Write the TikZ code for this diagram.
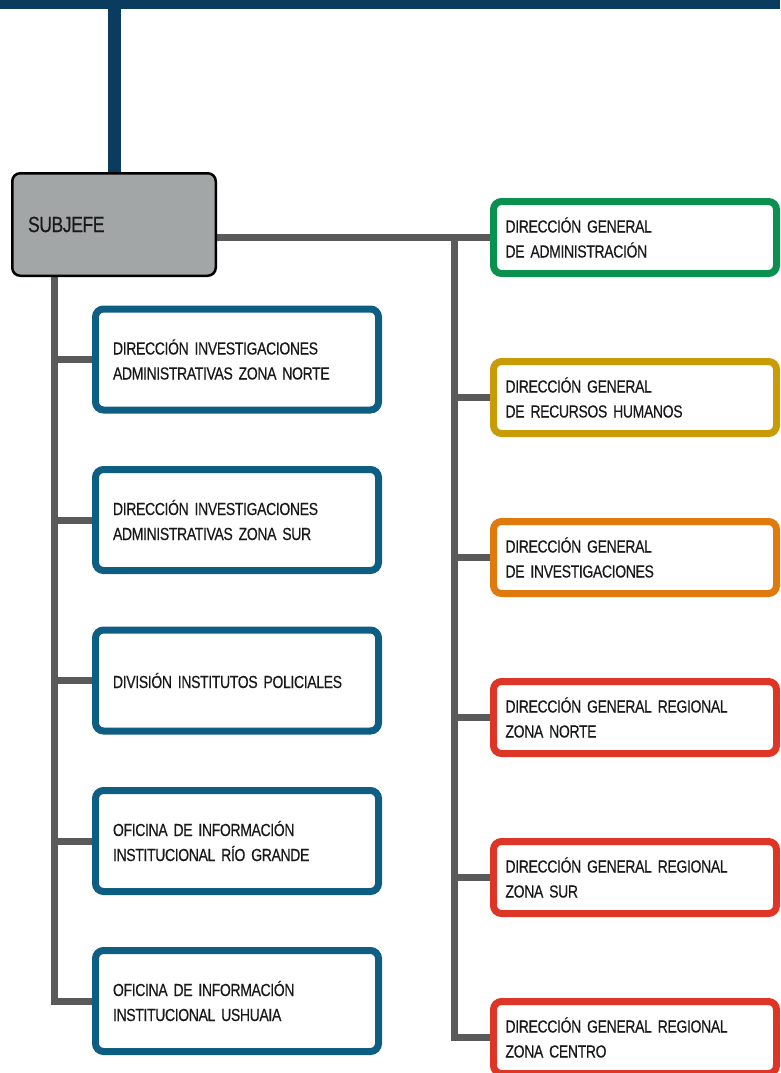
\documentclass[tikz,border=0pt]{standalone}
\usepackage{fontspec}
\setmainfont{Liberation Sans}[FakeStretch=0.8, WordSpace=0.7, FakeBold=0.4, LetterSpace=-2]
\usetikzlibrary{backgrounds}

\definecolor{navy}{RGB}{10,60,95}
\definecolor{boxblue}{RGB}{14,94,132}
\definecolor{linegray}{RGB}{90,90,90}
\definecolor{subgray}{RGB}{163,166,166}
\definecolor{dgreen}{RGB}{10,145,80}
\definecolor{dgold}{RGB}{200,155,7}
\definecolor{dorange}{RGB}{224,122,12}
\definecolor{dred}{RGB}{222,53,38}
\definecolor{txt}{RGB}{25,25,25}

\tikzset{
  conn/.style={draw=linegray, line width=7pt},
  leftbox/.style={draw=boxblue, fill=white, line width=7pt, rounded corners=8pt,
    text width=248pt, inner xsep=17.5pt, minimum height=101pt, align=left,
    text=txt, font=\fontsize{17.5}{25}\selectfont},
  rightbox/.style={draw=#1, fill=white, line width=7pt, rounded corners=8pt,
    text width=259pt, inner xsep=12pt, minimum height=72pt, align=left,
    text=txt, font=\fontsize{17.5}{25}\selectfont}
}

\begin{document}
\begin{tikzpicture}[x=1pt, y=-1pt]
    \useasboundingbox (0,0) rectangle (780,1073);
    \clip (0,0) rectangle (780,1073);

    % top
    \fill[navy] (0,0) rectangle (780,9);
    \node[draw=black, fill=subgray, line width=2.5pt, rounded corners=8pt,
          minimum width=203.5pt, minimum height=102.5pt, inner xsep=15.75pt,
          text=txt, font=\fontsize{22}{26}\selectfont, text width=172pt, align=left]
          (sub) at (114,224.5) {SUBJEFE};
    \coordinate (top) at (114,0);

    % left column
    \node[leftbox] (dianorte) at (237,359.5) {DIRECCIÓN INVESTIGACIONES\\ADMINISTRATIVAS ZONA NORTE};
    \node[leftbox] (diasur)   at (237,520)   {DIRECCIÓN INVESTIGACIONES\\ADMINISTRATIVAS ZONA SUR};
    \node[leftbox] (dip)      at (237,680.5) {DIVISIÓN INSTITUTOS POLICIALES};
    \node[leftbox] (oirg)     at (237,841)   {OFICINA DE INFORMACIÓN\\INSTITUCIONAL RÍO GRANDE};
    \node[leftbox] (oiu)      at (237,1001)  {OFICINA DE INFORMACIÓN\\INSTITUCIONAL USHUAIA};

    % right column
    \node[rightbox=dgreen]  (dga)  at (635,237.5)  {DIRECCIÓN GENERAL\\DE ADMINISTRACIÓN};
    \node[rightbox=dgold]   (dgrh) at (635,397.5)  {DIRECCIÓN GENERAL\\DE RECURSOS HUMANOS};
    \node[rightbox=dorange] (dgi)  at (635,557.5)  {DIRECCIÓN GENERAL\\DE INVESTIGACIONES};
    \node[rightbox=dred]    (dgzn) at (635,717.5)  {DIRECCIÓN GENERAL REGIONAL\\ZONA NORTE};
    \node[rightbox=dred]    (dgzs) at (635,877.5)  {DIRECCIÓN GENERAL REGIONAL\\ZONA SUR};
    \node[rightbox=dred]    (dgzc) at (635,1037.5) {DIRECCIÓN GENERAL REGIONAL\\ZONA CENTRO};

    \coordinate (ltrunk) at (54,270);
    \coordinate (rtrunk) at (454,237.5);

    \begin{scope}[on background layer]
        \draw[navy, line width=13pt] (top) -- (top |- sub.north);
        \draw[conn] (dga.west -| sub.east) -- (dga.west);
        \draw[conn] (ltrunk) |- (oiu.west);
        \draw[conn] (ltrunk |- dianorte.west) -- (dianorte.west);
        \draw[conn] (ltrunk |- diasur.west) -- (diasur.west);
        \draw[conn] (ltrunk |- dip.west) -- (dip.west);
        \draw[conn] (ltrunk |- oirg.west) -- (oirg.west);
        \draw[conn] (rtrunk) |- (dgzc.west);
        \draw[conn] (rtrunk |- dgrh.west) -- (dgrh.west);
        \draw[conn] (rtrunk |- dgi.west) -- (dgi.west);
        \draw[conn] (rtrunk |- dgzn.west) -- (dgzn.west);
        \draw[conn] (rtrunk |- dgzs.west) -- (dgzs.west);
    \end{scope}
\end{tikzpicture}
\end{document}
